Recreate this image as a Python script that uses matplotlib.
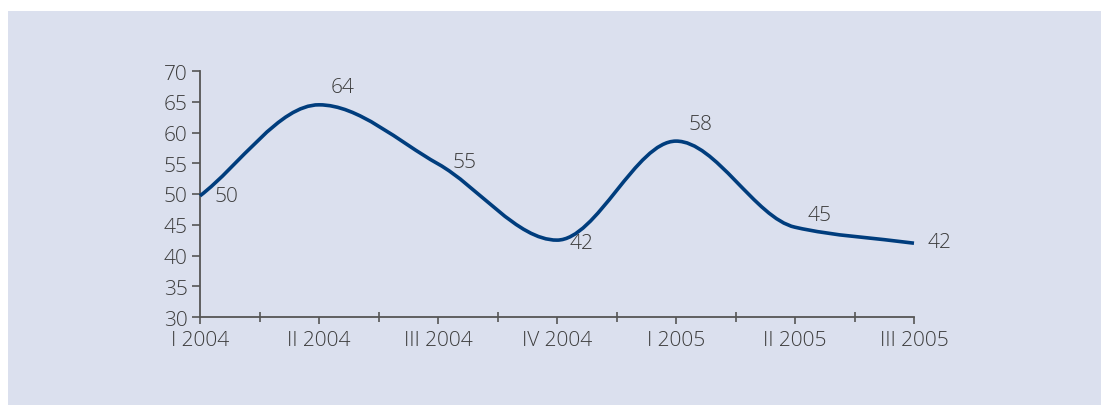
import numpy as np
import matplotlib
matplotlib.use("Agg")
import matplotlib.pyplot as plt
from matplotlib import font_manager
from matplotlib.path import Path
from matplotlib.patches import PathPatch, Rectangle

#      Données
#-------------------------------------------
trimestres = ["I 2004", "II 2004", "III 2004", "IV 2004", "I 2005", "II 2005", "III 2005"]
valeurs = [49.7, 64.5, 54.9, 42.5, 58.6, 44.6, 42.0]
etiquettes = ["50", "64", "55", "42", "58", "45", "42"]

# décalage des étiquettes (pixels)
decalages = [(26, 0), (24, 18), (26, 2), (24, -3), (24, 17), (25, 12), (26, 1)]

BLEU = "#003d7d"
GRIS = "#3c3c3c"
FOND = "#dbe0ee"

legeres = sorted({(f.name, f.weight) for f in font_manager.fontManager.ttflist
                  if f.name in ("Open Sans", "Lato", "Noto Sans", "Roboto")})
print(legeres)

plt.rcParams["font.family"] = ["Open Sans", "DejaVu Sans"]
plt.rcParams["font.weight"] = "light"


# Courbe lissée (Hermite monotone -> Bézier)
def courbe_lisse(x, y):
    x = np.asarray(x, float)
    y = np.asarray(y, float)
    h = np.diff(x)
    d = np.diff(y) / h
    m = np.zeros_like(y)
    m[0], m[-1] = d[0], d[-1]
    for i in range(1, len(y) - 1):
        if d[i - 1] * d[i] <= 0:
            m[i] = 0.0
        else:
            m[i] = 2.0 / (1.0 / d[i - 1] + 1.0 / d[i])
    verts = [(x[0], y[0])]
    codes = [Path.MOVETO]
    for i in range(len(x) - 1):
        verts += [(x[i] + h[i] / 3, y[i] + m[i] * h[i] / 3),
                  (x[i + 1] - h[i] / 3, y[i + 1] - m[i + 1] * h[i] / 3),
                  (x[i + 1], y[i + 1])]
        codes += [Path.CURVE4] * 3
    return Path(verts, codes)


fig = plt.figure(figsize=(11.01, 4.06), dpi=100)
fig.patch.set_facecolor("white")
fig.patches.append(Rectangle((8 / 1101, 0), 1, 1 - 12 / 406, transform=fig.transFigure,
                             facecolor=FOND, edgecolor="none", zorder=-1))

ax = fig.add_axes([200 / 1101, 1 - 318 / 406, 714 / 1101, 246 / 406])
ax.set_facecolor("none")
ax.set_zorder(1)

x = np.arange(len(valeurs))
ax.add_patch(PathPatch(courbe_lisse(x, valeurs), facecolor="none", edgecolor=BLEU,
                       linewidth=2.6, capstyle="butt", joinstyle="round", zorder=3,
                       clip_on=False))

for xi, yi, txt, (dx, dy) in zip(x, valeurs, etiquettes, decalages):
    ax.annotate(txt, (xi, yi), xytext=(dx, dy), textcoords="offset pixels",
                ha="center", va="center", fontsize=15, color=GRIS)

ax.set_xlim(0, len(valeurs) - 1)
ax.set_ylim(30, 70)
ax.set_yticks(range(30, 71, 5))
ax.set_xticks(x)
ax.set_xticklabels(trimestres)
ax.set_xticks(x[:-1] + 0.5, minor=True)

for s in ["top", "right"]:
    ax.spines[s].set_visible(False)
for s in ["left", "bottom"]:
    ax.spines[s].set_color("#555555")
    ax.spines[s].set_linewidth(1.3)

ax.tick_params(axis="y", direction="out", length=6, width=1.2, color="#555555",
               labelsize=15, labelcolor=GRIS, pad=3)
ax.tick_params(axis="x", which="major", direction="out", length=5, width=1.2,
               color="#555555", labelsize=15, labelcolor=GRIS, pad=4)
ax.tick_params(axis="x", which="minor", direction="inout", length=7, width=1.2,
               color="#555555")

fig.savefig("out.png", dpi=100)
